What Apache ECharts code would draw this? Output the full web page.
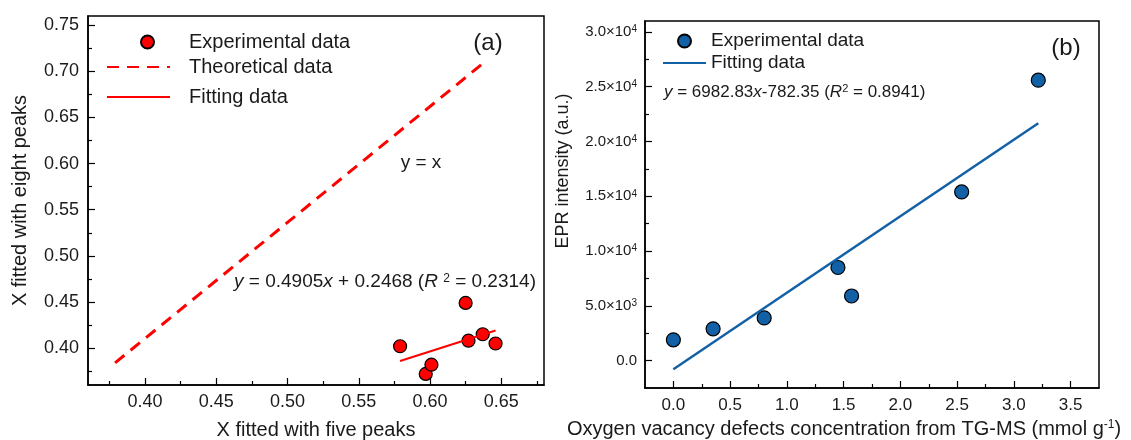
<!DOCTYPE html>
<html>
<head>
<meta charset="utf-8">
<script src="https://cdn.jsdelivr.net/npm/echarts@6/dist/echarts.min.js"></script>
<style>
    html, body {margin: 0; padding: 0; background: #fff;}
    #chart {width: 1131px; height: 440px;}
</style>
</head>
<body>
<div id="chart"></div>
<script>
// panel (a)
const expX_a = [0.579, 0.597, 0.601, 0.625, 0.627, 0.637, 0.646];
const expY_a = [0.402, 0.372, 0.382, 0.449, 0.408, 0.415, 0.405];
const theoX_a = [0.379, 0.639];
const theoY_a = [0.384, 0.711];
const fitX_a = [0.579, 0.646];
const fitY_a = [0.386, 0.419];
const xTicks_a = [0.40, 0.45, 0.50, 0.55, 0.60, 0.65];
const xMinor_a = [0.375, 0.425, 0.475, 0.525, 0.575, 0.625, 0.675];
const yTicks_a = [0.40, 0.45, 0.50, 0.55, 0.60, 0.65, 0.70, 0.75];
const yMinor_a = [0.375, 0.425, 0.475, 0.525, 0.575, 0.625, 0.675, 0.725];

// panel (b)
const expX_b = [0.0, 0.35, 0.80, 1.45, 1.57, 2.54, 3.215];
const expY_b = [1900, 2900, 3900, 8500, 5900, 15400, 25600];
const fitX_b = [0, 3.215];
const fitY_b = [-782, 21667];
const xTicks_b = [0.0, 0.5, 1.0, 1.5, 2.0, 2.5, 3.0, 3.5];
const xMinor_b = [0.25, 0.75, 1.25, 1.75, 2.25, 2.75, 3.25];
const yTicks_b = [0, 5000, 10000, 15000, 20000, 25000, 30000];
const yMinor_b = [2500, 7500, 12500, 17500, 22500, 27500];

const FONT = 'Liberation Sans, Arial, sans-serif';
const RED = '#ff0000';
const BLUE = '#1261a6';

function pairs(xs, ys) {
    return xs.map(function (x, i) { return [x, ys[i]]; });
}

function sciLabel(v) {
    if (v === 0) return '0.0';
    const e = Math.floor(Math.log10(v) + 1e-9);
    const m = (v / Math.pow(10, e)).toFixed(1);
    return '{m|' + m + '×10}{e|' + e + '}';
}

function mainAxis(grid, pos, min, max, ticks, fmt, fontSize, margin) {
    return {
        type: 'value', gridIndex: grid, position: pos, min: min, max: max,
        axisLine: {show: true, onZero: false, lineStyle: {color: '#000', width: 1.5}},
        axisTick: {show: true, inside: true, length: 7, customValues: ticks, lineStyle: {color: '#000', width: 1.2}},
        axisLabel: {customValues: ticks, formatter: fmt, color: '#1a1a1a', fontFamily: FONT, fontSize: fontSize, margin: margin},
        splitLine: {show: false}
    };
}

// second axis on the same side, only for the short minor ticks
function minorAxis(grid, pos, min, max, ticks) {
    return {
        type: 'value', gridIndex: grid, position: pos, min: min, max: max,
        axisLine: {show: false, onZero: false},
        axisTick: {show: true, inside: true, length: 4, customValues: ticks, lineStyle: {color: '#000', width: 1.2}},
        axisLabel: {show: false},
        splitLine: {show: false}
    };
}

const xa = mainAxis(0, 'bottom', 0.36, 0.68, xTicks_a, function (v) { return v.toFixed(2); }, 18, 8);
xa.name = 'X fitted with five peaks';
xa.nameLocation = 'middle';
xa.nameGap = 35;
xa.nameTextStyle = {fontFamily: FONT, fontSize: 20, color: '#1a1a1a'};

const ya = mainAxis(0, 'left', 0.36, 0.76, yTicks_a, function (v) { return v.toFixed(2); }, 18, 9);
ya.name = 'X fitted with eight peaks';
ya.nameLocation = 'middle';
ya.nameGap = 58;
ya.nameTextStyle = {fontFamily: FONT, fontSize: 20, color: '#1a1a1a'};

const xb = mainAxis(1, 'bottom', -0.25, 3.75, xTicks_b, function (v) { return v.toFixed(1); }, 17, 9);
const yb = mainAxis(1, 'left', -2500, 31000, yTicks_b, sciLabel, 15, 8);
yb.axisLabel.rich = {
    m: {fontFamily: FONT, fontSize: 15, color: '#1a1a1a'},
    e: {fontFamily: FONT, fontSize: 10, color: '#1a1a1a', verticalAlign: 'top'}
};

const legendText = {fontFamily: FONT, fontSize: 20, color: '#1a1a1a', lineHeight: 20};
const noDot = {opacity: 0};

const chart = echarts.init(document.getElementById('chart'));
chart.setOption({
    animation: false,
    backgroundColor: '#fff',
    grid: [
        {left: 88, right: 587, top: 16, bottom: 55, outerBoundsMode: 'none', containLabel: false,
            show: true, borderColor: '#000', borderWidth: 1.5},
        {left: 645, right: 32, top: 21, bottom: 52, outerBoundsMode: 'none', containLabel: false,
            show: true, borderColor: '#000', borderWidth: 1.5}
    ],
    xAxis: [xa, minorAxis(0, 'bottom', 0.36, 0.68, xMinor_a), xb, minorAxis(1, 'bottom', -0.25, 3.75, xMinor_b)],
    yAxis: [ya, minorAxis(0, 'left', 0.36, 0.76, yMinor_a), yb, minorAxis(1, 'left', -2500, 31000, yMinor_b)],
    legend: [
        {data: ['Experimental data'], left: 140, top: 32, padding: 0, itemWidth: 13, itemHeight: 13,
            selectedMode: false, textStyle: Object.assign({padding: [0, 0, 0, 30]}, legendText)},
        {data: [{name: 'Theoretical data', itemStyle: noDot}], left: 106, top: 57, padding: 0, itemWidth: 63, itemHeight: 13,
            selectedMode: false, textStyle: Object.assign({padding: [0, 0, 0, 14]}, legendText)},
        {data: [{name: 'Fitting data', itemStyle: noDot}], left: 106, top: 87, padding: 0, itemWidth: 63, itemHeight: 13,
            selectedMode: false, textStyle: Object.assign({padding: [0, 0, 0, 14]}, legendText)},
        {data: ['Experimental data ', {name: 'Fitting data ', itemStyle: noDot}], orient: 'vertical', left: 662, top: 31, padding: 0,
            itemWidth: 43, itemHeight: 13, itemGap: 2, selectedMode: false,
            textStyle: {fontFamily: FONT, fontSize: 19, color: '#1a1a1a', lineHeight: 20},
            formatter: function (n) { return n.trim(); }}
    ],
    series: [
        {
            name: 'Theoretical data', type: 'line', xAxisIndex: 0, yAxisIndex: 0,
            data: pairs(theoX_a, theoY_a), symbol: 'none',
            lineStyle: {color: RED, width: 3, type: [12, 8]}, itemStyle: {color: RED}
        },
        {
            name: 'Fitting data', type: 'line', xAxisIndex: 0, yAxisIndex: 0,
            data: pairs(fitX_a, fitY_a), symbol: 'none',
            lineStyle: {color: RED, width: 2}, itemStyle: {color: RED}
        },
        {
            name: 'Experimental data', type: 'scatter', xAxisIndex: 0, yAxisIndex: 0,
            data: pairs(expX_a, expY_a), symbolSize: 13,
            itemStyle: {color: RED, borderColor: '#000', borderWidth: 1.2, opacity: 1}
        },
        {
            name: 'Fitting data ', type: 'line', xAxisIndex: 2, yAxisIndex: 2,
            data: pairs(fitX_b, fitY_b), symbol: 'none',
            lineStyle: {color: BLUE, width: 2.5}, itemStyle: {color: BLUE}
        },
        {
            name: 'Experimental data ', type: 'scatter', xAxisIndex: 2, yAxisIndex: 2,
            data: pairs(expX_b, expY_b), symbolSize: 14,
            itemStyle: {color: BLUE, borderColor: '#000', borderWidth: 1.2, opacity: 1}
        }
    ],
    graphic: [
        {type: 'text', x: 488, y: 43, style: {text: '(a)', fontFamily: FONT, fontSize: 24, fill: '#1a1a1a', align: 'center', verticalAlign: 'middle'}},
        {type: 'text', x: 421, y: 163, style: {text: 'y = x', fontFamily: FONT, fontSize: 19, fill: '#1a1a1a', align: 'center', verticalAlign: 'middle'}},
        {type: 'text', x: 385, y: 282, style: {
            text: '{i|y} = 0.4905{i|x} + 0.2468 ({i|R} {s|2} = 0.2314)',
            fontFamily: FONT, fontSize: 19, fill: '#1a1a1a', align: 'center', verticalAlign: 'middle',
            rich: {
                i: {fontFamily: FONT, fontSize: 19, fontStyle: 'italic', fill: '#1a1a1a'},
                s: {fontFamily: FONT, fontSize: 12, fill: '#1a1a1a', verticalAlign: 'top'}
            }
        }},
        {type: 'text', x: 1066, y: 48, style: {text: '(b)', fontFamily: FONT, fontSize: 24, fill: '#1a1a1a', align: 'center', verticalAlign: 'middle'}},
        {type: 'text', x: 664, y: 92, style: {
            text: '{i|y} = 6982.83{i|x}-782.35 ({i|R}{s|2} = 0.8941)',
            fontFamily: FONT, fontSize: 17, fill: '#1a1a1a', align: 'left', verticalAlign: 'middle',
            rich: {
                i: {fontFamily: FONT, fontSize: 17, fontStyle: 'italic', fill: '#1a1a1a'},
                s: {fontFamily: FONT, fontSize: 11, fill: '#1a1a1a', verticalAlign: 'top'}
            }
        }},
        {type: 'text', x: 563, y: 171, rotation: Math.PI / 2, style: {
            text: 'EPR intensity (a.u.)', fontFamily: FONT, fontSize: 18, fill: '#1a1a1a', align: 'center', verticalAlign: 'middle'}},
        {type: 'text', x: 844, y: 429, style: {
            text: 'Oxygen vacancy defects concentration from TG-MS (mmol g{s|-1})',
            fontFamily: FONT, fontSize: 20, fill: '#1a1a1a', align: 'center', verticalAlign: 'middle',
            rich: {s: {fontFamily: FONT, fontSize: 12, fill: '#1a1a1a', verticalAlign: 'top'}}
        }}
    ]
});
</script>
</body>
</html>
